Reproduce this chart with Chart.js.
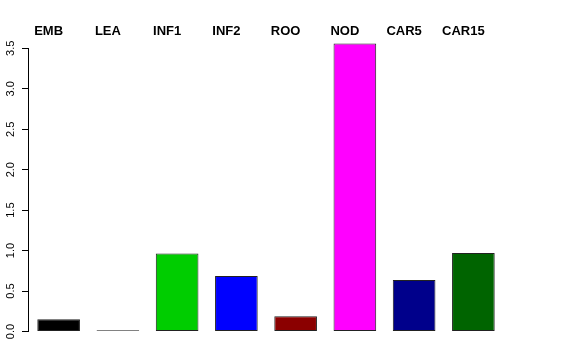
<!DOCTYPE html>
<html>
<head>
<meta charset="utf-8">
<script src="https://cdn.jsdelivr.net/npm/chart.js@4"></script>
<style>
  html, body { margin: 0; padding: 0; background: #fff; }
  #c { display: block; }
</style>
</head>
<body>
<canvas id="c" width="576" height="360"></canvas>
<script>
const categories = ["EMB", "LEA", "INF1", "INF2", "ROO", "NOD", "CAR5", "CAR15"];
const values = [0.15, 0.015, 0.965, 0.685, 0.19, 3.56, 0.636, 0.97];
const barColors = ["#000000", "#FF0000", "#00CD00", "#0000FF", "#8B0000", "#FF00FF", "#00008B", "#006400"];
const yTicks = [0, 0.5, 1.0, 1.5, 2.0, 2.5, 3.0, 3.5];

const axisLinePlugin = {
  id: 'axisLine',
  afterDraw(chart) {
    const y = chart.scales.y;
    const ctx = chart.ctx;
    const x = Math.round(chart.chartArea.left) - 0.5;
    ctx.save();
    ctx.strokeStyle = '#000';
    ctx.lineWidth = 1;
    ctx.beginPath();
    ctx.moveTo(x, y.getPixelForValue(yTicks[0]));
    ctx.lineTo(x, y.getPixelForValue(yTicks[yTicks.length - 1]));
    ctx.stroke();
    ctx.restore();
  }
};

new Chart(document.getElementById('c'), {
  type: 'bar',
  data: {
    labels: categories,
    datasets: [{
      data: values,
      backgroundColor: barColors,
      borderColor: '#222',
      borderWidth: 1,
      borderSkipped: false,
      barPercentage: 0.72,
      categoryPercentage: 1.0
    }]
  },
  options: {
    responsive: false,
    animation: false,
    devicePixelRatio: 1,
    layout: { padding: { left: 0, right: 73, top: 0, bottom: 28.5 } },
    plugins: { legend: { display: false }, tooltip: { enabled: false } },
    scales: {
      x: { display: false, offset: true },
      x2: {
        type: 'category',
        labels: categories,
        position: 'top',
        offset: true,
        grid: { display: false },
        border: { display: false },
        ticks: {
          color: '#000',
          padding: -10,
          autoSkip: false,
          maxRotation: 0,
          labelOffset: -10,
          font: { family: 'Liberation Sans, Arial, sans-serif', size: 13, weight: 'bold' }
        },
        afterFit(scale) { scale.height = 37; }
      },
      y: {
        min: 0,
        max: 3.64,
        position: 'left',
        border: { display: false },
        grid: { display: true, drawOnChartArea: false, drawTicks: true, tickLength: 7, color: '#000' },
        ticks: {
          stepSize: 0.5,
          autoSkip: false,
          minRotation: 90,
          maxRotation: 90,
          crossAlign: 'center',
          padding: 3,
          color: '#000',
          font: { family: 'Liberation Sans, Arial, sans-serif', size: 11 },
          callback: (v) => Number(v).toFixed(1)
        },
        afterBuildTicks(scale) {
          scale.ticks = yTicks.map(v => ({ value: v }));
        },
        afterFit(scale) { scale.width = 29; }
      }
    }
  },
  plugins: [axisLinePlugin]
});
</script>
</body>
</html>
